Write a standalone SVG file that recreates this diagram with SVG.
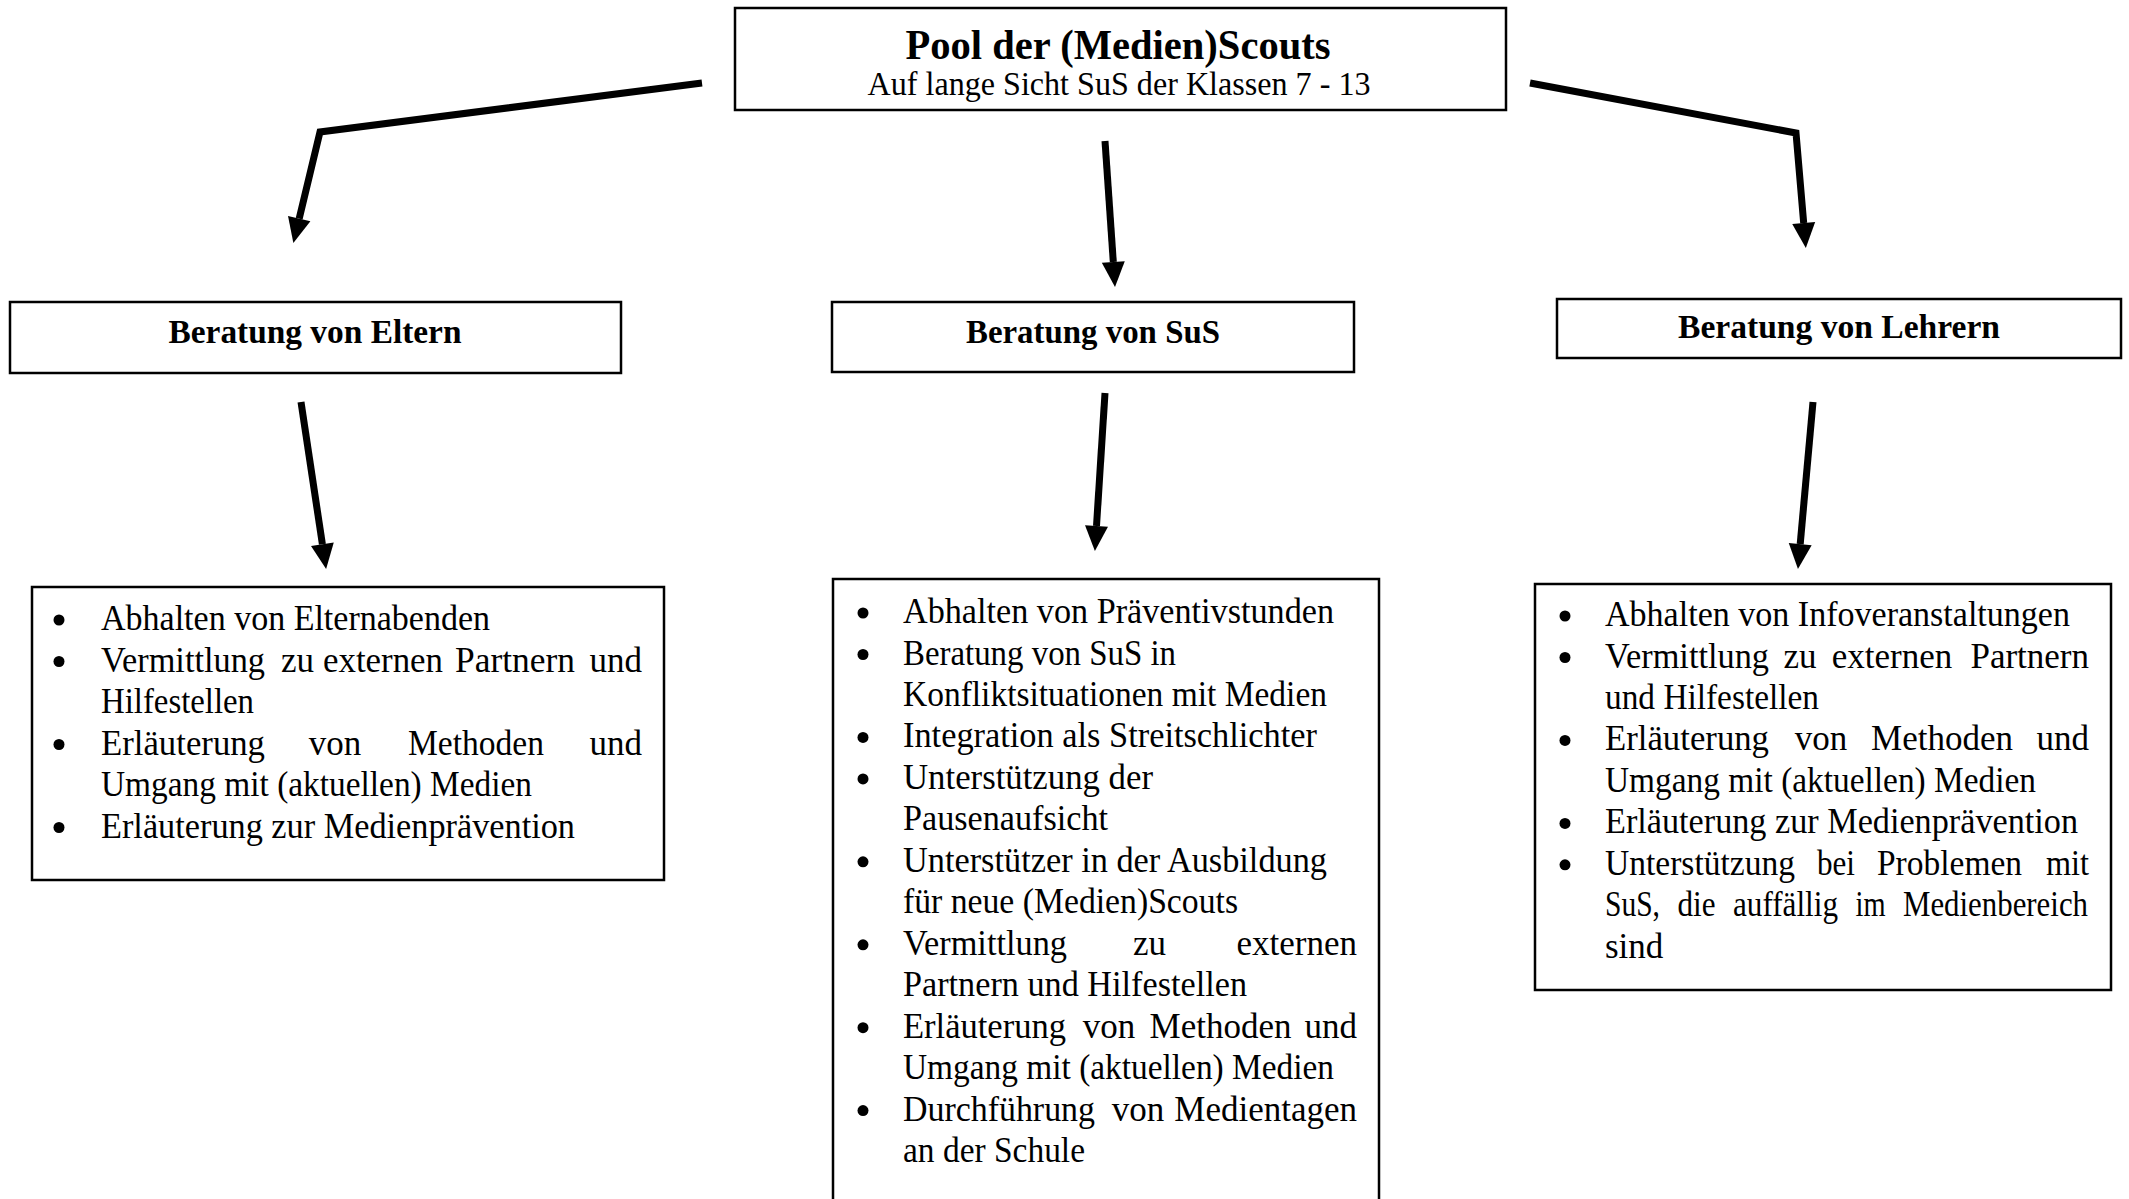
<svg xmlns="http://www.w3.org/2000/svg" width="2129" height="1199" viewBox="0 0 2129 1199">
<style>
.box{fill:#fff;stroke:#000;stroke-width:2.5}
.hd{font-family:"Liberation Serif","Times New Roman",serif;font-weight:bold;font-size:33px;fill:#000;text-anchor:middle}
.li{font-family:"Liberation Serif","Times New Roman",serif;font-size:35px;fill:#000}
.m{text-anchor:middle}
.e{text-anchor:end}
.conn{fill:none;stroke:#000;stroke-width:7;stroke-linejoin:miter}
</style>
<defs>
<marker id="ah" markerUnits="userSpaceOnUse" markerWidth="26" markerHeight="24" refX="0" refY="11.5" orient="auto" overflow="visible">
<path d="M0,0 L25,11.5 L0,23 Z" fill="#000"/>
</marker>
</defs>
<rect width="2129" height="1199" fill="#fff"/>

<g id="connectors">
<path class="conn" d="M702,83 L320,132 L299.2,218.6" marker-end="url(#ah)"/>
<path class="conn" d="M1105,141 L1113.3,262" marker-end="url(#ah)"/>
<path class="conn" d="M1530,83 L1796,133 L1803.7,223.1" marker-end="url(#ah)"/>
<path class="conn" d="M301,402 L322.4,544.3" marker-end="url(#ah)"/>
<path class="conn" d="M1105,393 L1096.5,526" marker-end="url(#ah)"/>
<path class="conn" d="M1813,402 L1800.2,544.1" marker-end="url(#ah)"/>
</g>

<g id="pool">
<rect class="box" x="735" y="8" width="771" height="102"/>
<text class="hd" x="1118" y="59" style="font-size:42px" textLength="425" lengthAdjust="spacingAndGlyphs">Pool der (Medien)Scouts</text>
<text class="hd" x="1119" y="95" style="font-size:33px;font-weight:normal" textLength="503" lengthAdjust="spacingAndGlyphs">Auf lange Sicht SuS der Klassen 7 - 13</text>
</g>

<g id="eltern">
<rect class="box" x="10" y="302" width="611" height="71"/>
<text class="hd" x="315" y="343" textLength="293" lengthAdjust="spacingAndGlyphs">Beratung von Eltern</text>
</g>

<g id="sus">
<rect class="box" x="832" y="302" width="522" height="70"/>
<text class="hd" x="1093" y="343" textLength="254" lengthAdjust="spacingAndGlyphs">Beratung von SuS</text>
</g>

<g id="lehrer">
<rect class="box" x="1557" y="299" width="564" height="59"/>
<text class="hd" x="1839" y="338" textLength="322" lengthAdjust="spacingAndGlyphs">Beratung von Lehrern</text>
</g>

<g id="liste-eltern">
<rect class="box" x="32" y="587" width="632" height="293"/>
<circle cx="59" cy="620" r="5.5"/>
<circle cx="59" cy="661.5" r="5.5"/>
<circle cx="59" cy="744.5" r="5.5"/>
<circle cx="59" cy="827.5" r="5.5"/>
<text class="li" x="101" y="630" textLength="389" lengthAdjust="spacingAndGlyphs">Abhalten von Elternabenden</text>
<text class="li" x="101" y="671.5" textLength="164" lengthAdjust="spacingAndGlyphs">Vermittlung</text>
<text class="li m" x="297.5" y="671.5">zu</text>
<text class="li" x="323" y="671.5" textLength="120" lengthAdjust="spacingAndGlyphs">externen</text>
<text class="li" x="455" y="671.5" textLength="120" lengthAdjust="spacingAndGlyphs">Partnern</text>
<text class="li e" x="642" y="671.5">und</text>
<text class="li" x="101" y="713" textLength="153" lengthAdjust="spacingAndGlyphs">Hilfestellen</text>
<text class="li" x="101" y="754.5" textLength="164" lengthAdjust="spacingAndGlyphs">Erläuterung</text>
<text class="li m" x="335" y="754.5">von</text>
<text class="li" x="408" y="754.5" textLength="136" lengthAdjust="spacingAndGlyphs">Methoden</text>
<text class="li e" x="642" y="754.5">und</text>
<text class="li" x="101" y="796" textLength="431" lengthAdjust="spacingAndGlyphs">Umgang mit (aktuellen) Medien</text>
<text class="li" x="101" y="837.5" textLength="474" lengthAdjust="spacingAndGlyphs">Erläuterung zur Medienprävention</text>
</g>

<g id="liste-sus">
<rect class="box" x="833" y="579" width="546" height="640"/>
<circle cx="863" cy="613" r="5.5"/>
<circle cx="863" cy="654.5" r="5.5"/>
<circle cx="863" cy="737.4" r="5.5"/>
<circle cx="863" cy="778.9" r="5.5"/>
<circle cx="863" cy="861.8" r="5.5"/>
<circle cx="863" cy="944.8" r="5.5"/>
<circle cx="863" cy="1027.7" r="5.5"/>
<circle cx="863" cy="1110.6" r="5.5"/>
<text class="li" x="903" y="623" textLength="431" lengthAdjust="spacingAndGlyphs">Abhalten von Präventivstunden</text>
<text class="li" x="903" y="664.5" textLength="273" lengthAdjust="spacingAndGlyphs">Beratung von SuS in</text>
<text class="li" x="903" y="706" textLength="424" lengthAdjust="spacingAndGlyphs">Konfliktsituationen mit Medien</text>
<text class="li" x="903" y="747.4" textLength="414" lengthAdjust="spacingAndGlyphs">Integration als Streitschlichter</text>
<text class="li" x="903" y="788.9" textLength="250" lengthAdjust="spacingAndGlyphs">Unterstützung der</text>
<text class="li" x="903" y="830.4" textLength="205" lengthAdjust="spacingAndGlyphs">Pausenaufsicht</text>
<text class="li" x="903" y="871.8" textLength="424" lengthAdjust="spacingAndGlyphs">Unterstützer in der Ausbildung</text>
<text class="li" x="903" y="913.3" textLength="335" lengthAdjust="spacingAndGlyphs">für neue (Medien)Scouts</text>
<text class="li" x="903" y="954.8" textLength="164" lengthAdjust="spacingAndGlyphs">Vermittlung</text>
<text class="li m" x="1149.5" y="954.8">zu</text>
<text class="li e" x="1357" y="954.8">externen</text>
<text class="li" x="903" y="996.2" textLength="344" lengthAdjust="spacingAndGlyphs">Partnern und Hilfestellen</text>
<text class="li" x="903" y="1037.7" textLength="163" lengthAdjust="spacingAndGlyphs">Erläuterung</text>
<text class="li m" x="1109" y="1037.7">von</text>
<text class="li m" x="1220.5" y="1037.7">Methoden</text>
<text class="li e" x="1357" y="1037.7">und</text>
<text class="li" x="903" y="1079.2" textLength="431" lengthAdjust="spacingAndGlyphs">Umgang mit (aktuellen) Medien</text>
<text class="li" x="903" y="1120.6" textLength="192" lengthAdjust="spacingAndGlyphs">Durchführung</text>
<text class="li m" x="1138" y="1120.6">von</text>
<text class="li e" x="1357" y="1120.6">Medientagen</text>
<text class="li" x="903" y="1162.1" textLength="182" lengthAdjust="spacingAndGlyphs">an der Schule</text>
</g>

<g id="liste-lehrer">
<rect class="box" x="1535" y="584" width="576" height="406"/>
<circle cx="1565" cy="616" r="5.5"/>
<circle cx="1565" cy="657.5" r="5.5"/>
<circle cx="1565" cy="740.4" r="5.5"/>
<circle cx="1565" cy="823.4" r="5.5"/>
<circle cx="1565" cy="864.8" r="5.5"/>
<text class="li" x="1605" y="626" textLength="465" lengthAdjust="spacingAndGlyphs">Abhalten von Infoveranstaltungen</text>
<text class="li" x="1605" y="667.5" textLength="164" lengthAdjust="spacingAndGlyphs">Vermittlung</text>
<text class="li m" x="1800" y="667.5">zu</text>
<text class="li m" x="1892" y="667.5">externen</text>
<text class="li e" x="2089" y="667.5">Partnern</text>
<text class="li" x="1605" y="708.9" textLength="214" lengthAdjust="spacingAndGlyphs">und Hilfestellen</text>
<text class="li" x="1605" y="750.4" textLength="164" lengthAdjust="spacingAndGlyphs">Erläuterung</text>
<text class="li m" x="1821" y="750.4">von</text>
<text class="li m" x="1942" y="750.4">Methoden</text>
<text class="li e" x="2089" y="750.4">und</text>
<text class="li" x="1605" y="791.9" textLength="431" lengthAdjust="spacingAndGlyphs">Umgang mit (aktuellen) Medien</text>
<text class="li" x="1605" y="833.4" textLength="473" lengthAdjust="spacingAndGlyphs">Erläuterung zur Medienprävention</text>
<text class="li" x="1605" y="874.8" textLength="190" lengthAdjust="spacingAndGlyphs">Unterstützung</text>
<text class="li" x="1817" y="874.8" textLength="38" lengthAdjust="spacingAndGlyphs">bei</text>
<text class="li" x="1877" y="874.8" textLength="145" lengthAdjust="spacingAndGlyphs">Problemen</text>
<text class="li" x="2046" y="874.8" textLength="43" lengthAdjust="spacingAndGlyphs">mit</text>
<text class="li" x="1605" y="916.3" textLength="55" lengthAdjust="spacingAndGlyphs">SuS,</text>
<text class="li" x="1677.5" y="916.3" textLength="38" lengthAdjust="spacingAndGlyphs">die</text>
<text class="li" x="1733" y="916.3" textLength="105" lengthAdjust="spacingAndGlyphs">auffällig</text>
<text class="li" x="1855.5" y="916.3" textLength="30" lengthAdjust="spacingAndGlyphs">im</text>
<text class="li" x="1903" y="916.3" textLength="185" lengthAdjust="spacingAndGlyphs">Medienbereich</text>
<text class="li" x="1605" y="957.8">sind</text>
</g>
</svg>
